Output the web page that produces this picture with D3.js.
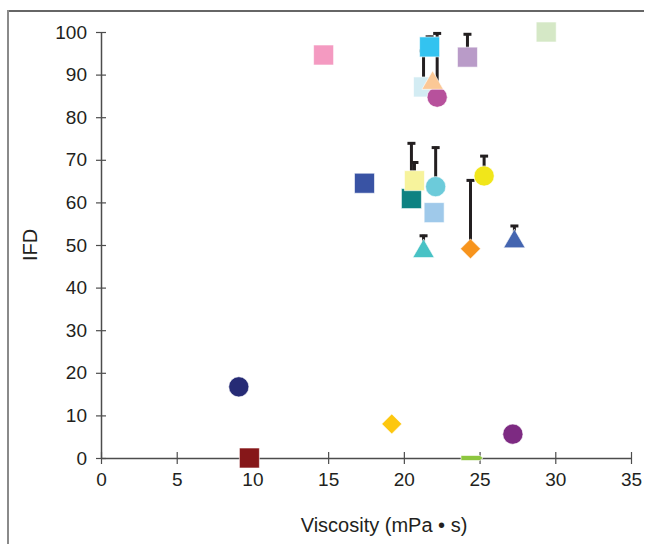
<!DOCTYPE html>
<html>
<head>
<meta charset="utf-8">
<script src="https://cdn.jsdelivr.net/npm/d3@7"></script>
<style>
  body { margin: 0; background: #fff; }
  svg { display: block; font-family: Arial, "Liberation Sans", sans-serif; }
</style>
</head>
<body>
<svg id="chart"></svg>
<script>
// Values, one entry per sample
const viscosity = [14.7, 29.4, 21.3, 21.7, 22.2, 21.9, 24.2, 17.4, 20.5, 20.7, 22.1, 22.0, 25.3, 21.3, 24.4, 27.3, 9.1, 9.8, 19.2, 27.2, 24.5]
const ifd       = [94.6, 100, 87.1, 96.5, 84.7, 88.0, 94.1, 64.5, 60.9, 65.1, 63.7, 57.6, 66.2, 48.5, 49.1, 50.8, 16.7, 0, 8.0, 5.6, 0]
const ifdError  = [0, 0, 8.7, 2.6, 15.2, 0, 5.6, 0, 13.2, 4.5, 9.4, 0, 4.9, 3.9, 16.3, 3.9, 0, 0, 0, 0, 0]

// Marker look for each sample
const markerShapes = ["square", "square", "square", "square", "circle", "triangle", "square", "square", "square", "square", "circle", "square", "circle", "triangle", "diamond", "triangle", "circle", "square", "diamond", "circle", "dash"]
const markerColors = ["#f49ac1", "#d5e8c6", "#d3ecf3", "#33c3f0", "#b7519c", "#fbc896", "#b99bc8", "#3953a4", "#0e8282", "#f7f39c", "#6ccbda", "#9fc9ea", "#f1e61a", "#48c2c5", "#f7941d", "#4465b0", "#262b75", "#861719", "#fdc70f", "#7d2a82", "#8dc63f"]

const xTicks = [0, 5, 10, 15, 20, 25, 30, 35]
const yTicks = [0, 10, 20, 30, 40, 50, 60, 70, 80, 90, 100]

const data = viscosity.map((v, i) => ({
    x: v, y: ifd[i], err: ifdError[i], shape: markerShapes[i], color: markerColors[i]
}))

const widthSvg = 645
const heightSvg = 544
const margin = {top: 32, right: 14, bottom: 86, left: 101}

const svg = d3.select("#chart")
    .attr("width", widthSvg)
    .attr("height", heightSvg)

// Frame lines of the original figure
svg.append("line")
    .attr("x1", 8).attr("x2", 644).attr("y1", 11).attr("y2", 11)
    .attr("stroke", "#333").attr("stroke-width", 1.5)
svg.append("line")
    .attr("x1", 8).attr("x2", 8).attr("y1", 10).attr("y2", heightSvg)
    .attr("stroke", "#8a8a8a").attr("stroke-width", 2)

const xScale = d3.scaleLinear()
    .domain([0, 35])
    .range([margin.left, widthSvg - margin.right])

const yScale = d3.scaleLinear()
    .domain([0, 100])
    .range([heightSvg - margin.bottom, margin.top])

//**** X AXIS ****/
const xAxis = d3.axisBottom(xScale)
    .tickValues(xTicks)
    .tickSizeInner(6)
    .tickSizeOuter(0)
    .tickPadding(9)

const gx = svg.append("g")
    .attr("transform", "translate(0," + yScale(0) + ")")
    .call(xAxis)
gx.select(".domain").attr("stroke", "#4d4d4d").attr("stroke-width", 1.5)
gx.selectAll(".tick line").attr("y1", -6).attr("stroke", "#4d4d4d").attr("stroke-width", 1.2)
gx.selectAll("text").attr("font-size", "19px").attr("fill", "#231f20")

//**** Y AXIS ****/
const yAxis = d3.axisLeft(yScale)
    .tickValues(yTicks)
    .tickSizeInner(5)
    .tickSizeOuter(0)
    .tickPadding(9)

const gy = svg.append("g")
    .attr("transform", "translate(" + xScale(0) + ",0)")
    .call(yAxis)
gy.select(".domain").attr("stroke", "#4d4d4d").attr("stroke-width", 1.5)
gy.selectAll(".tick line").attr("x2", 5).attr("x1", -5).attr("stroke", "#4d4d4d").attr("stroke-width", 1.2)
gy.selectAll("text").attr("font-size", "19px").attr("fill", "#231f20")

// Axis titles
svg.append("text")
    .attr("x", 384)
    .attr("y", 532)
    .attr("text-anchor", "middle")
    .attr("font-size", "20px")
    .attr("fill", "#231f20")
    .text("Viscosity (mPa • s)")

svg.append("text")
    .attr("transform", "translate(37," + yScale(50) + ") rotate(-90)")
    .attr("text-anchor", "middle")
    .attr("font-size", "20px")
    .attr("fill", "#231f20")
    .text("IFD")

//**** ERROR BARS (upper only) ****/
const withErr = data.filter(d => d.err > 0)
svg.selectAll("errLines")
    .data(withErr)
    .enter()
    .append("line")
    .attr("x1", d => xScale(d.x))
    .attr("x2", d => xScale(d.x))
    .attr("y1", d => yScale(d.y))
    .attr("y2", d => yScale(d.y + d.err))
    .attr("stroke", "#231f20")
    .attr("stroke-width", 3)

svg.selectAll("errCaps")
    .data(withErr)
    .enter()
    .append("line")
    .attr("x1", d => xScale(d.x) - 4)
    .attr("x2", d => xScale(d.x) + 4)
    .attr("y1", d => yScale(d.y + d.err) + 1)
    .attr("y2", d => yScale(d.y + d.err) + 1)
    .attr("stroke", "#231f20")
    .attr("stroke-width", 3)

//**** MARKERS ****/
const symbolPath = (shape) => {
    if (shape === "circle") return d3.symbol(d3.symbolCircle, 320)()
    if (shape === "triangle") return d3.symbol(d3.symbolTriangle, 200)()
    if (shape === "diamond") return d3.symbol(d3.symbolSquare, 200)()
    if (shape === "dash") return "M-11,-2.5L8,-2.5L11,0L8,2.5L-11,2.5Z"
    return d3.symbol(d3.symbolSquare, 400)()
}

svg.selectAll("markers")
    .data(data)
    .enter()
    .append("path")
    .attr("d", d => symbolPath(d.shape))
    .attr("transform", d => "translate(" + xScale(d.x) + "," + yScale(d.y) + ")" + (d.shape === "diamond" ? " rotate(45)" : ""))
    .attr("fill", d => d.color)
    .attr("stroke", "#fff")
    .attr("stroke-width", 0.6)
</script>
</body>
</html>
